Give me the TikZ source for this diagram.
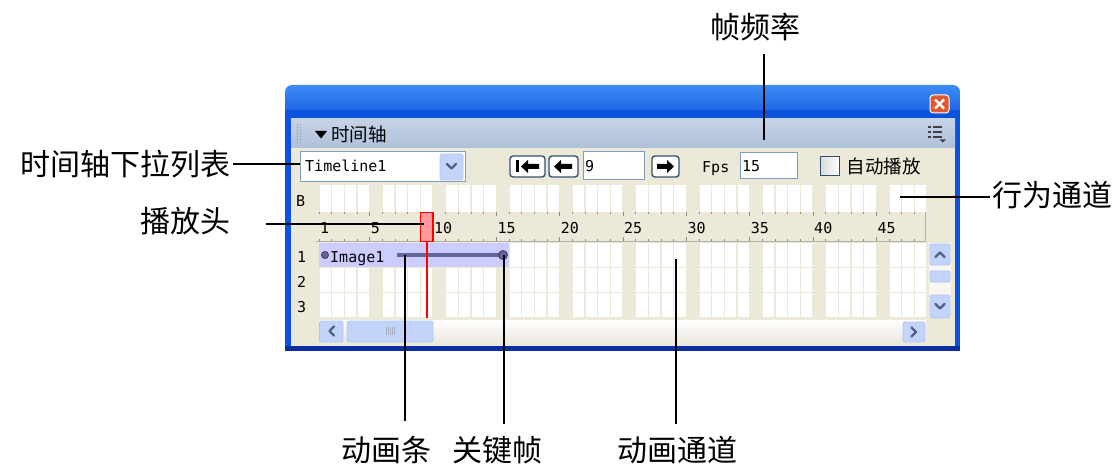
\documentclass[tikz,border=0pt]{standalone}
\usepackage{fontspec}
\usepackage{tikz}
\usetikzlibrary{positioning}
\newfontfamily\cjk{Noto Sans CJK SC}
\newfontfamily\pixfont{DejaVu Sans Mono}
\definecolor{xptop}{HTML}{3D8CF4}
\definecolor{xpblue}{HTML}{0B52DE}
\definecolor{xpdark}{HTML}{0A2FA0}
\definecolor{xpbeige}{HTML}{ECE9D8}
\definecolor{hdrtop}{HTML}{C6D3E6}
\definecolor{hdrbot}{HTML}{AEC0D9}
\definecolor{fieldedge}{HTML}{7F9DB9}
\definecolor{sbfill}{HTML}{C3D4FB}
\definecolor{sbedge}{HTML}{B0C6F2}
\definecolor{sbglyph}{HTML}{4D6185}
\definecolor{btnedge}{HTML}{34506F}
\definecolor{barfill}{HTML}{CCCCFF}
\definecolor{barline}{HTML}{646496}
\definecolor{headfill}{HTML}{FF9A9A}
\definecolor{tickgray}{HTML}{8E8B7E}
\definecolor{closered}{HTML}{E2582F}
\definecolor{trackbot}{HTML}{ECE9DE}
\tikzset{ann/.style = {font=\cjk\fontsize{30}{36}\selectfont, inner sep=2pt}}
\tikzset{lead/.style = {line width=2pt}}
\tikzset{field/.style = {draw=fieldedge, fill=white, line width=1pt}}
\tikzset{sbbtn/.style = {draw=sbedge, fill=sbfill, rounded corners=2pt, line width=0.8pt}}
\tikzset{tbbtn/.style = {draw=btnedge, fill=white, rounded corners=3pt, line width=1.4pt}}
\tikzset{pix/.style = {font=\pixfont\fontsize{15}{18}\selectfont, inner sep=0}}
\tikzset{ui/.style = {font=\cjk\fontsize{18.5}{22}\selectfont, inner sep=0}}
\tikzset{glyph/.style = {sbglyph, line width=2.2pt, line cap=round, line join=round}}

\begin{document}
\begin{tikzpicture}[x=1pt, y=-1pt]
  \useasboundingbox (0,0) rectangle (1118,465);

  \shade [top color=xptop, bottom color=xpblue, rounded corners=7pt] (285,85) rectangle (960,125);
  \fill [xpblue] (285,110) rectangle (960,351);
  \fill [xpdark] (285,346) rectangle (960,351);
  \fill [xpbeige] (291,119) rectangle (955,346);
  \shade [top color=hdrtop, bottom color=hdrbot] (291,119) rectangle (955,148);

  \draw [white, fill=closered, rounded corners=3pt, line width=1pt] (930,95) rectangle (949,113);
  \draw [white, line width=2.4pt] (935,99.5) -- (944,108.5) (944,99.5) -- (935,108.5);

  \foreach \gy in {124,127,...,142}
    \fill [gray!70] (296.5,\gy) rectangle +(1.3,1.3) (299.5,\gy) rectangle +(1.3,1.3);
  \fill (315,131) -- (327,131) -- (321,138.5) -- cycle;
  \node [ui, anchor=west] (title) at (331,134) {时间轴};
  \foreach \my in {127,132,137} {
    \fill [black!75] (928,\my-1) rectangle (930.5,\my+1);
    \fill [black!75] (932.5,\my-0.8) rectangle (942,\my+0.6);
  }
  \fill [black!75] (939.5,139.5) -- (946,139.5) -- (942.75,142.5) -- cycle;

  \draw [field] (300,151.5) rectangle (465,182);
  \node [pix, anchor=west] (tlname) at (305,166) {Timeline1};
  \draw [sbbtn] (440,154) rectangle (463,180);
  \draw [glyph] (447,164) -- (451.5,168.5) -- (456,164);
  \coordinate (combo) at (300,164);

  \draw [tbbtn] (510,156) rectangle (545,177);
  \fill (516,160.5) rectangle (519,172.5);
  \fill (521,166.5) -- (528,160) -- (528,164) -- (539,164) -- (539,169) -- (528,169) -- (528,173) -- cycle;
  \draw [tbbtn] (549,156) rectangle (578,177);
  \fill (554,166.5) -- (561,160) -- (561,164) -- (572,164) -- (572,169) -- (561,169) -- (561,173) -- cycle;
  \draw [field] (583,152) rectangle (644,179.5);
  \node [pix, anchor=west] (frameno) at (585,166.5) {9};
  \draw [tbbtn] (652,156) rectangle (679,177);
  \fill (674,166.5) -- (667,160) -- (667,164) -- (657,164) -- (657,169) -- (667,169) -- (667,173) -- cycle;
  \node [pix, anchor=base west] (fpslbl) at (702,173) {Fps};
  \draw [field] (740,153) rectangle (797,178.5);
  \node [pix, anchor=west] (fpsval) at (742,166) {15};
  \coordinate (fpsnote) at (764,140);
  \node [draw=btnedge, line width=1pt, left color=gray!30, right color=white, minimum size=19pt, inner sep=0, anchor=north west] (chk) at (819.5,156.5) {};
  \node [ui, right=7pt of chk] (autoplay) {自动播放};

  \foreach \f in {1,...,48} {
    \pgfmathsetmacro\fx{319+(\f-1)*12.667}
    \pgfmathtruncatemacro\fm{mod(\f,5)}
    \ifnum\fm>0
      \fill [white] (\fx+0.6,185) rectangle (\fx+12.1,211.5);
      \foreach \ry in {243,268,293}
        \fill [white] (\fx+0.6,\ry) rectangle (\fx+12.1,\ry+24);
    \fi
  }
  \node [pix, anchor=base west] (lb) at (296,207) {B};
  \foreach \l/\by in {1/262,2/287,3/312}
    \node [pix, anchor=base west] (ly\l) at (297,\by) {\l};
  \coordinate (bchan) at (900,197);

  \fill [xpbeige] (316,212) rectangle (926,242);
  \draw [tickgray!70, line width=1pt] (316,241.5) -- (925.5,241.5) -- (925.5,212);
  \foreach \f in {1,...,48} {
    \pgfmathsetmacro\fx{319+(\f-1)*12.667}
    \pgfmathtruncatemacro\fm{mod(\f,5)}
    \ifnum\fm=0 \def\tl{4}\else\def\tl{1.8}\fi
    \draw [tickgray, line width=0.8pt] (\fx,212) -- ++(0,\tl) (\fx,240.5) -- ++(0,-\tl);
  }
  \foreach \n in {1,5,10,15,20,25,30,35,40,45}
    \node [pix, anchor=west] (rl\n) at ({319+(\n-1)*12.667+1},228) {\n};

  \fill [barfill] (319,243) rectangle (509,267);
  \draw [barline, line width=4pt] (397,255) -- (503,255);
  \filldraw [fill=barline, draw=barline!60!black, line width=0.8pt] (325,255) circle [radius=3.5pt];
  \filldraw [fill=barline, draw=barline!60!black, line width=0.8pt] (503,255) circle [radius=4.5pt];
  \node [pix, anchor=base west] (lyrname) at (330,262) {Image1};
  \coordinate (abar) at (405,255);
  \coordinate (key) at (504,255);
  \coordinate (achan) at (676,259);

  \draw [red, line width=1.5pt] (427,242) -- (427,318);
  \draw [red, fill=headfill, line width=1.2pt] (420.5,212.5) rectangle (433,241.5);
  \coordinate (phead) at (424,224);

  \fill [white!60!xpbeige] (929,243) rectangle (951,318);
  \draw [sbbtn] (930,244) rectangle (950,265);
  \draw [glyph] (935.5,257) -- (940,252.5) -- (944.5,257);
  \draw [sbbtn] (930,271) rectangle (950,282);
  \draw [sbbtn] (930,295) rectangle (950,318);
  \draw [glyph] (935.5,304) -- (940,308.5) -- (944.5,304);

  \shade [top color=white, bottom color=trackbot] (319,320) rectangle (926,342);
  \draw [sbbtn] (319.5,321) rectangle (343,342);
  \draw [glyph] (334,326.5) -- (329.5,331) -- (334,335.5);
  \draw [sbbtn] (347,321) rectangle (433,342);
  \foreach \gx in {386,388,...,394}
    \draw [sbglyph!50, line width=0.7pt] (\gx,327) -- (\gx,335);
  \draw [sbbtn] (903,322) rectangle (925,342);
  \draw [glyph] (911.5,327.5) -- (916,332) -- (911.5,336.5);

  \node [ann] (rate) at (755,27) {帧频率};
  \node [ann, anchor=east] (tlann) at (233,164) {时间轴下拉列表};
  \node [ann, anchor=east] (phann) at (233,221.5) {播放头};
  \node [ann, anchor=west] (bhann) at (990,195.5) {行为通道};
  \node [ann] (barann) at (386,450) {动画条};
  \node [ann] (keyann) at (497,450) {关键帧};
  \node [ann] (chann) at (677,450) {动画通道};

  \draw [lead, shorten <=11pt] (rate.south -| fpsnote) -- (fpsnote);
  \draw [lead] (tlann.east |- combo) -- (combo);
  \draw [lead, shorten <=33pt] (phann.east |- phead) -- (phead);
  \draw [lead] (bhann.west |- bchan) -- (bchan);
  \draw [lead, shorten <=13pt] (barann.north -| abar) -- (abar);
  \draw [lead, shorten <=10pt] (keyann.north -| key) -- (key);
  \draw [lead, shorten <=10pt] (chann.north -| achan) -- (achan);
\end{tikzpicture}
\end{document}
